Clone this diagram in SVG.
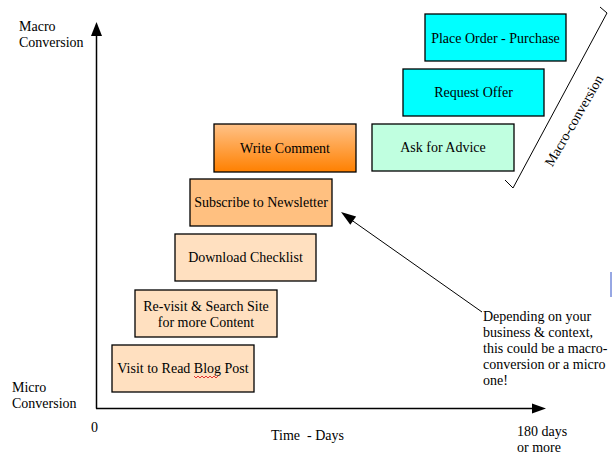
<svg xmlns="http://www.w3.org/2000/svg" width="612" height="456" viewBox="0 0 612 456">
<style>
text{font-family:"Liberation Serif","Times New Roman",serif;font-size:14px;fill:#000}
.c{text-anchor:middle}
.pre{white-space:pre}
.box{stroke:#000;stroke-width:1.3}
.ln{stroke:#000;fill:none}
</style>
<defs>
<linearGradient id="gOrange" x1="0" y1="0" x2="0" y2="1">
<stop offset="0" stop-color="#FFC288"/>
<stop offset="1" stop-color="#FF8000"/>
</linearGradient>
</defs>
<rect width="612" height="456" fill="#fff"/>

<g id="axes">
<line class="ln" x1="96.5" y1="34" x2="96.5" y2="408.5" stroke-width="1.5"/>
<polygon points="96.5,22 91,36 102,36" fill="#000"/>
<line class="ln" x1="96" y1="408.5" x2="534" y2="408.5" stroke-width="1.5"/>
<polygon points="546,408.5 532,403.5 532,413.5" fill="#000"/>
</g>

<g id="axis-labels">
<text x="19" y="31">Macro</text>
<text x="19" y="47">Conversion</text>
<text x="12" y="392">Micro</text>
<text x="12" y="408">Conversion</text>
<text x="91" y="432">0</text>
<text class="pre" x="271" y="440" xml:space="preserve">Time  - Days</text>
<text x="517" y="436">180 days</text>
<text x="517" y="452">or more</text>
</g>

<g id="node-visit">
<rect class="box" x="112" y="345" width="142" height="47" fill="#FFE0C0"/>
<text class="c" x="183" y="373">Visit to Read Blog Post</text>
<polyline points="194,376 196,378 198,376 200,378 202,376 204,378 206,376 208,378 210,376 212,378 214,376 216,378 218,376" fill="none" stroke="#E02020" stroke-width="0.9"/>
</g>
<g id="node-revisit">
<rect class="box" x="135" y="290" width="142" height="47" fill="#FFE0C0"/>
<text class="c" x="206" y="311">Re-visit &amp; Search Site</text>
<text class="c" x="206" y="327">for more Content</text>
</g>
<g id="node-download">
<rect class="box" x="175" y="234" width="141" height="47" fill="#FFE0C0"/>
<text class="c" x="245.5" y="262">Download Checklist</text>
</g>
<g id="node-subscribe">
<rect class="box" x="190" y="179" width="142" height="47" fill="#FFC080"/>
<text class="c" x="261" y="207">Subscribe to Newsletter</text>
</g>
<g id="node-comment">
<rect class="box" x="214" y="124" width="142" height="48" fill="url(#gOrange)"/>
<text class="c" x="285" y="153">Write Comment</text>
</g>
<g id="node-advice">
<rect class="box" x="372" y="124" width="142" height="47" fill="#C0FFE0"/>
<text class="c" x="443" y="152">Ask for Advice</text>
</g>
<g id="node-offer">
<rect class="box" x="403" y="69" width="141" height="47" fill="#00FFFF"/>
<text class="c" x="473.5" y="97">Request Offer</text>
</g>
<g id="node-order">
<rect class="box" x="425" y="14" width="141" height="47" fill="#00FFFF"/>
<text class="c" x="495.5" y="43">Place Order - Purchase</text>
</g>

<g id="macro-bracket">
<polyline class="ln" points="505,180 513,188 607,13 600,7" stroke-width="1"/>
<text class="c" x="0" y="0" transform="translate(578,123) rotate(-60)">Macro-conversion</text>
</g>

<g id="connectors">
<line class="ln" x1="482" y1="312" x2="350" y2="219" stroke-width="1"/>
<polygon points="341,212 356.1,216.6 350.3,224.8" fill="#000"/>
</g>

<g id="callout">
<text x="483" y="321">Depending on your</text>
<text x="483" y="337">business &amp; context,</text>
<text x="483" y="353">this could be a macro-</text>
<text x="483" y="369">conversion or a micro</text>
<text x="483" y="385">one!</text>
</g>

<line x1="611" y1="272" x2="611" y2="297" stroke="#3050C8" stroke-width="1"/>
</svg>
